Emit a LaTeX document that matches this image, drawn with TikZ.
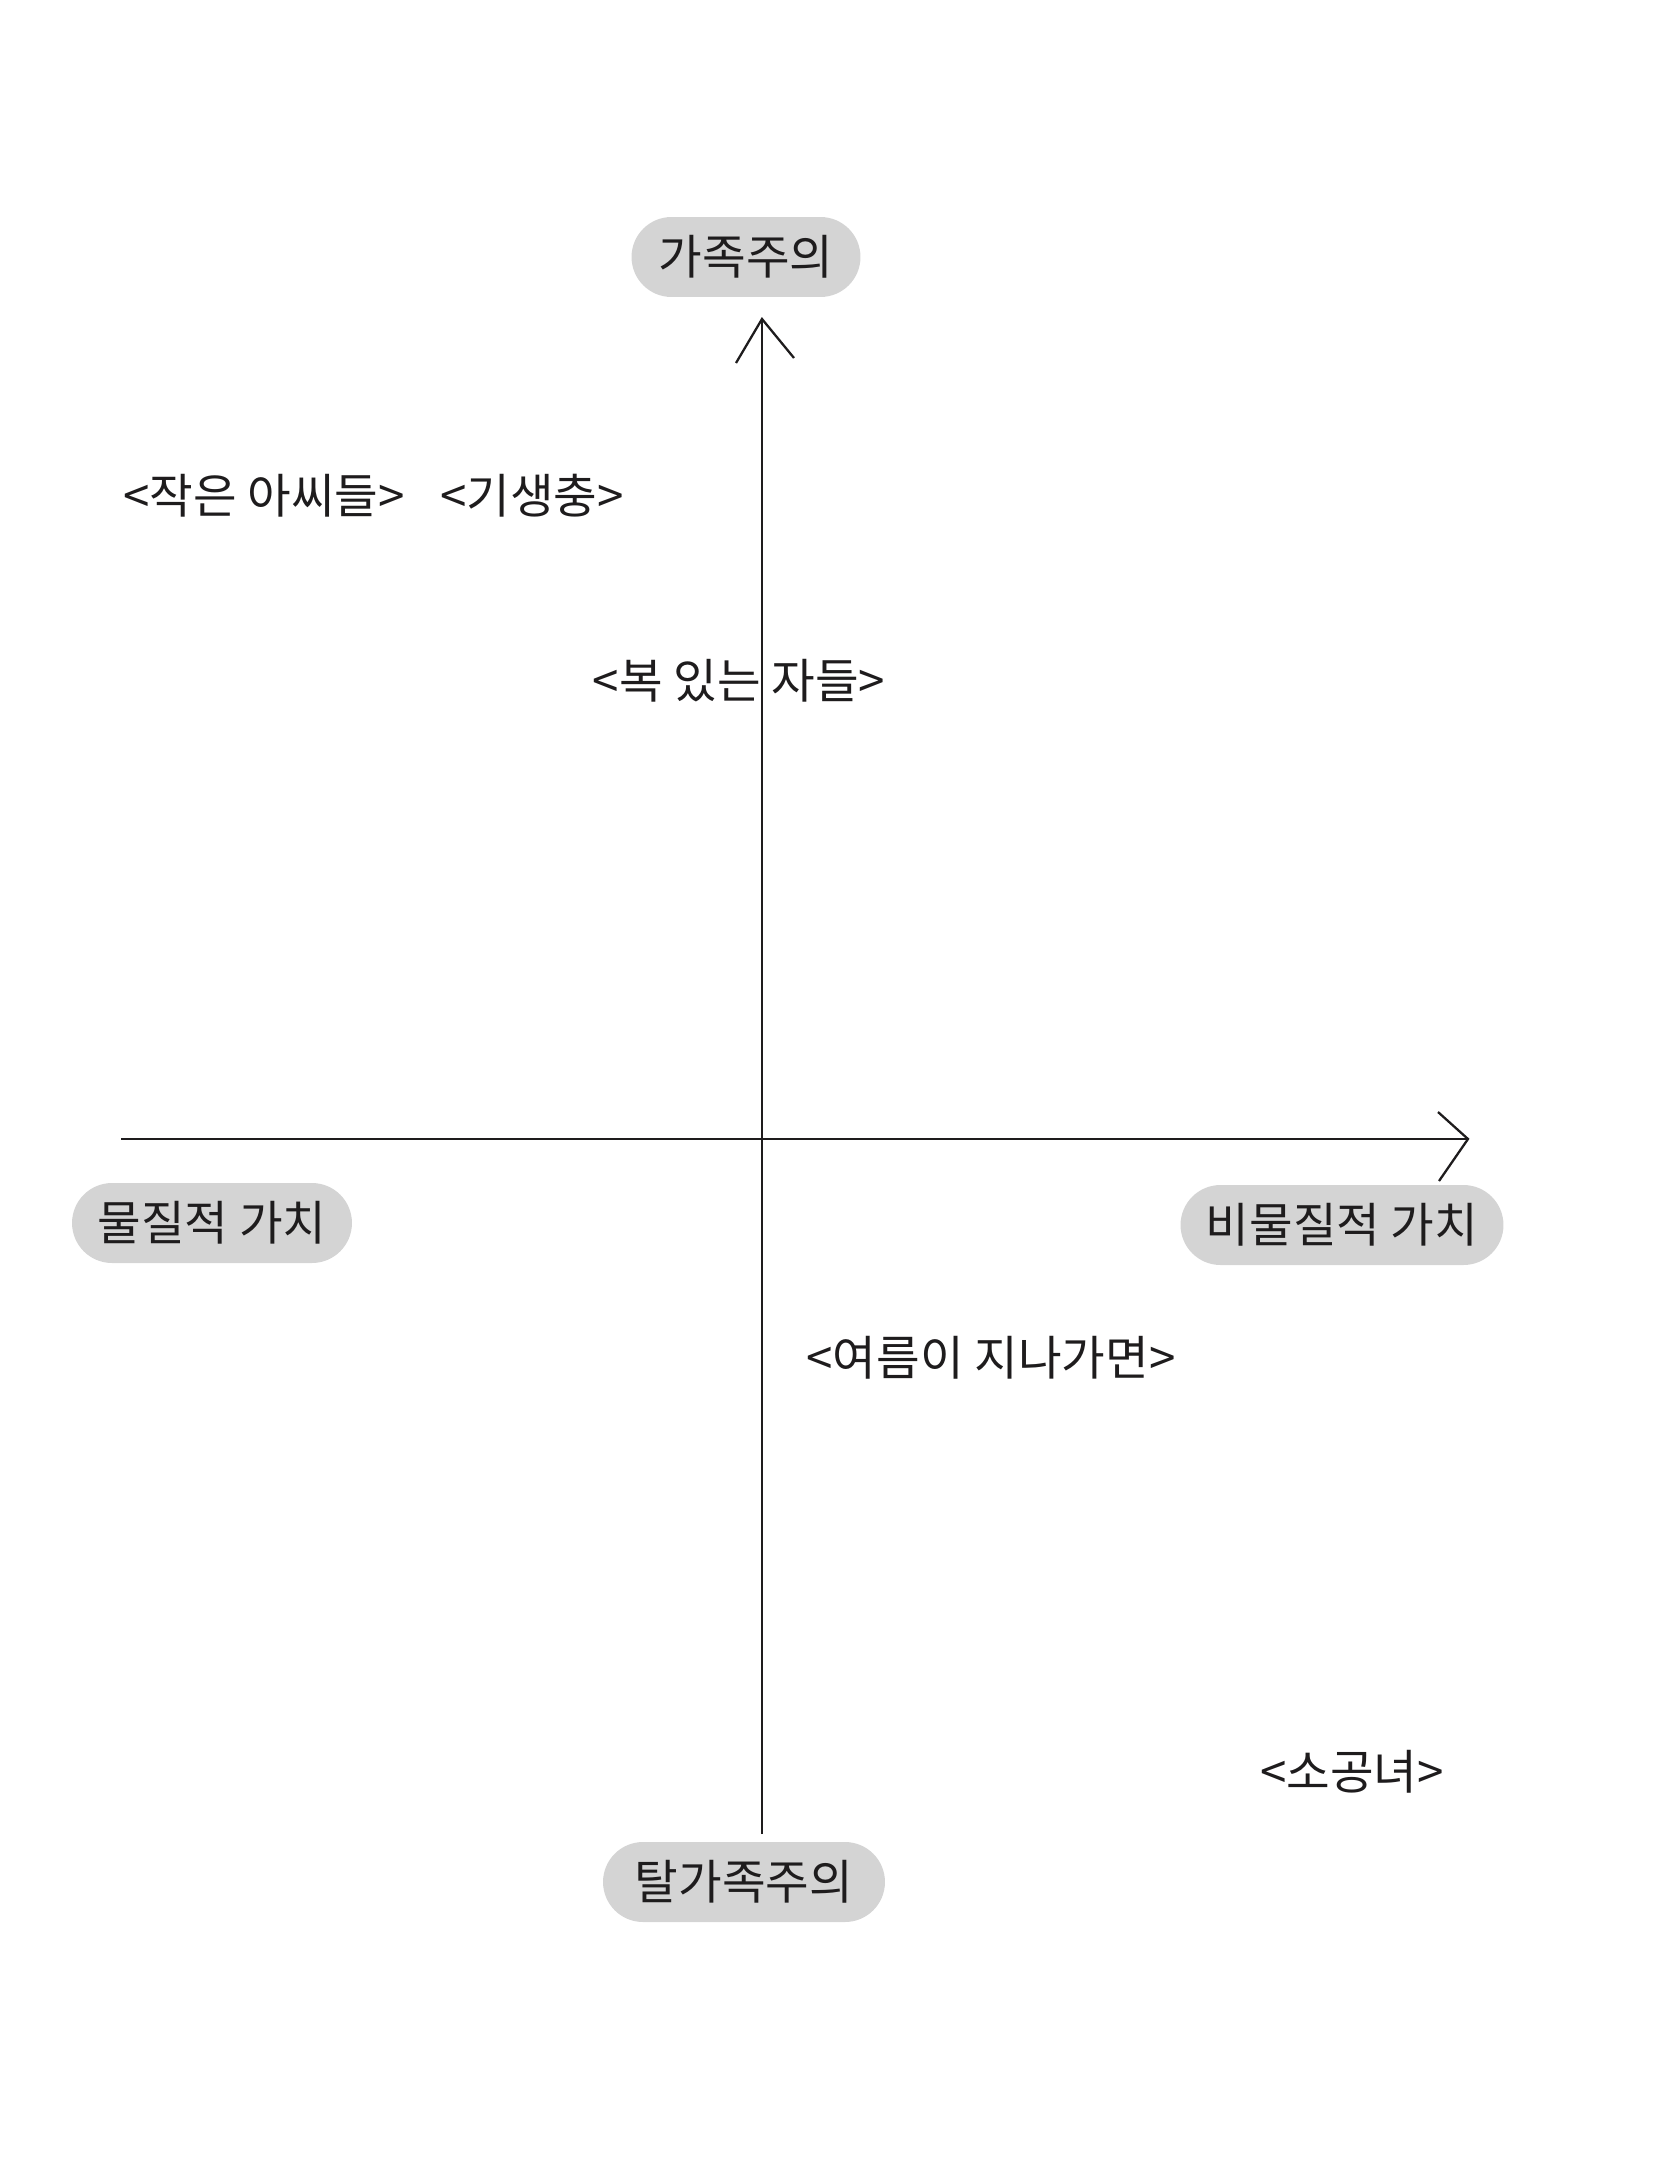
\documentclass[tikz,border=0pt]{standalone}
\usepackage{fontspec}
\setmainfont{Noto Sans CJK KR}
\usepackage{xcolor}
\definecolor{pillgray}{RGB}{212,212,212}
\definecolor{ink}{RGB}{30,28,29}

\begin{document}
\begin{tikzpicture}[x=0.02cm,y=-0.02cm,
  axis/.style={line width=1.3pt, ink},
  pill/.style={fill=pillgray, rounded corners=0.8cm, minimum height=1.6cm,
    inner xsep=0pt, text=ink, font=\fontsize{27}{32}\selectfont},
  film/.style={inner sep=0pt, text=ink, font=\fontsize{27}{32}\selectfont}]

\useasboundingbox (0,0) rectangle (1668,2157);

% Define coordinates for easier positioning
\coordinate (T) at (762,319);
\coordinate (B) at (762,1834);
\coordinate (L) at (121,1139);
\coordinate (R) at (1468,1139);
\coordinate (T1) at (736,363);
\coordinate (T2) at (794,358);
\coordinate (R1) at (1438,1112);
\coordinate (R2) at (1439,1181);

% Draw the axes
\draw[axis] (B) -- (T);
\draw[axis] (L) -- (R);

% Draw the open arrow heads
\draw[axis] (T1) -- (T) -- (T2);
\draw[axis] (R1) -- (R) -- (R2);

% Add the pole labels
\node[pill, minimum width=4.58cm] (fam) at (746,257) {가족주의};
\node[pill, minimum width=5.64cm] (nofam) at (744,1882) {탈가족주의};
\node[pill, minimum width=5.6cm] (mat) at (212,1223) {물질적 가치};
\node[pill, minimum width=6.46cm] (nonmat) at (1342,1225) {비물질적 가치};

% Add the film titles
\node[film] (women) at (264,496) {<작은 아씨들>};
\node[film] (parasite) at (532,496) {<기생충>};
\node[film] (blessed) at (739,681) {<복 있는 자들>};
\node[film] (summer) at (991,1358) {<여름이 지나가면>};
\node[film] (maid) at (1352,1772) {<소공녀>};
\end{tikzpicture}
\end{document}
